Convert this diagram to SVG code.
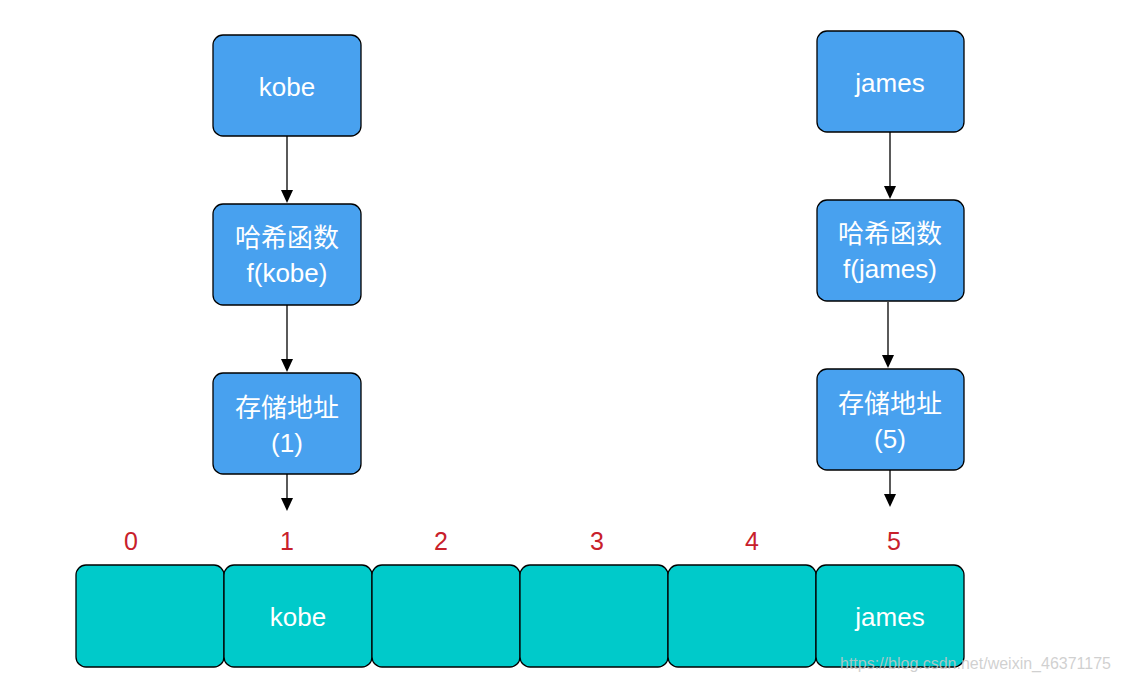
<svg xmlns="http://www.w3.org/2000/svg" width="1122" height="682" viewBox="0 0 1122 682">
<style>
.box{fill:#48A1EF;stroke:#000;stroke-width:1.3}
.cell{fill:#00CACA;stroke:#000;stroke-width:1.3}
.t{font-family:"Liberation Sans",Arial,"Noto Sans CJK SC",sans-serif;font-size:26px;fill:#fff;text-anchor:middle}
.cj{font-family:"Noto Sans CJK SC",sans-serif;font-size:26px;fill:#fff;text-anchor:middle}
.idx{font-family:"Liberation Sans",Arial,sans-serif;font-size:25px;fill:#C8202A;text-anchor:middle}
.wm{font-family:"Liberation Sans",Arial,sans-serif;font-size:16px;fill:#c8c8c8;fill-opacity:0.85}
.ln{stroke:#000;stroke-width:1.3;fill:none}
</style>
<rect width="1122" height="682" fill="#fff"/>
<g id="kobe"><rect class="box" x="213" y="35" width="148" height="101" rx="10"/><text class="t" x="287" y="96">kobe</text></g>
<g id="hash-kobe"><rect class="box" x="213" y="204" width="148" height="101" rx="10"/><text class="cj" x="287" y="247">哈希函数</text><text class="t" x="287" y="282">f(kobe)</text></g>
<g id="addr-kobe"><rect class="box" x="213" y="373" width="148" height="101" rx="10"/><text class="cj" x="287" y="417">存储地址</text><text class="t" x="287" y="452">(1)</text></g>
<g id="james"><rect class="box" x="817" y="31" width="147" height="101" rx="10"/><text class="t" x="890" y="92">james</text></g>
<g id="hash-james"><rect class="box" x="817" y="200" width="147" height="101" rx="10"/><text class="cj" x="890" y="243">哈希函数</text><text class="t" x="890" y="278">f(james)</text></g>
<g id="addr-james"><rect class="box" x="817" y="369" width="147" height="101" rx="10"/><text class="cj" x="890" y="413">存储地址</text><text class="t" x="890" y="448">(5)</text></g>
<g id="array">
<rect class="cell" x="76" y="565" width="148" height="102" rx="10"/>
<rect class="cell" x="224" y="565" width="148" height="102" rx="10"/>
<rect class="cell" x="372" y="565" width="148" height="102" rx="10"/>
<rect class="cell" x="520" y="565" width="148" height="102" rx="10"/>
<rect class="cell" x="668" y="565" width="148" height="102" rx="10"/>
<rect class="cell" x="816" y="565" width="148" height="102" rx="10"/>
<text class="t" x="298" y="626">kobe</text>
<text class="t" x="890" y="626">james</text>
</g>
<g id="indices">
<text class="idx" x="131" y="550">0</text>
<text class="idx" x="287" y="550">1</text>
<text class="idx" x="441" y="550">2</text>
<text class="idx" x="597" y="550">3</text>
<text class="idx" x="752" y="550">4</text>
<text class="idx" x="894" y="550">5</text>
</g>
<g id="connectors">
<path class="ln" d="M287,136 V192"/>
<path d="M281,190 L293,190 L287,203 Z"/>
<path class="ln" d="M287,305 V361"/>
<path d="M281,359 L293,359 L287,372 Z"/>
<path class="ln" d="M287,474 V500"/>
<path d="M281,498 L293,498 L287,511 Z"/>
<path class="ln" d="M890,132 V188"/>
<path d="M884,186 L896,186 L890,199 Z"/>
<path class="ln" d="M888,302 V357"/>
<path d="M882,355 L894,355 L888,368 Z"/>
<path class="ln" d="M890,470 V496"/>
<path d="M884,494 L896,494 L890,507 Z"/>
</g>
<text class="wm" x="840" y="669">https://blog.csdn.net/weixin_46371175</text>
</svg>
